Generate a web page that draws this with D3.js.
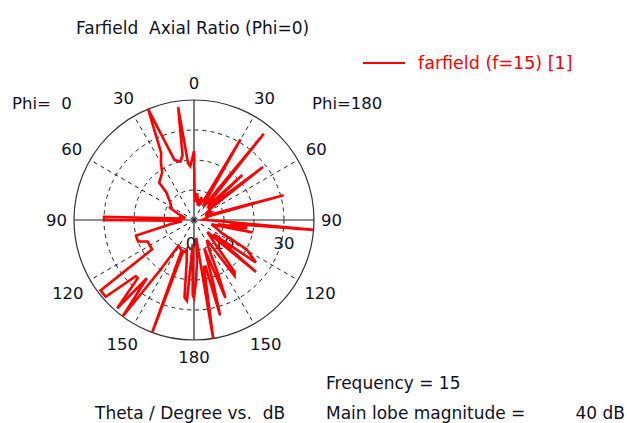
<!DOCTYPE html>
<html>
<head>
<meta charset="utf-8">
<script src="https://cdn.jsdelivr.net/npm/d3@7"></script>
<style>
  body { margin: 0; background: #fff; }
  svg text { font-family: "DejaVu Sans", sans-serif; fill: #101024; white-space: pre; }
</style>
</head>
<body>
<div id="chartDiv"></div>
<script>
// axial ratio (dB), phi=0 drawn on the left, phi=180 on the right
var thetaPhi0 = [0, 2, 4, 6, 8, 10, 13, 18, 22.5, 26, 30, 34, 38, 43, 45, 50, 53, 58, 63, 68, 72, 76, 80, 84, 88, 90, 92, 96, 100, 105, 111, 115, 120, 125, 127, 131, 134, 136, 139, 141, 143.5, 146, 149, 158, 159.6, 161, 164, 166, 170, 173, 175, 177, 179, 180];
var arPhi0 = [23, 20, 18, 19, 38, 22, 20, 21, 40, 25, 22, 19, 18, 17, 13, 11, 10, 9, 9, 6, 4, 5, 3, 5, 30, 30, 6, 4, 8, 20, 20, 17, 17, 17, 39, 39, 27, 27, 39, 25, 40, 20, 10, 11, 40, 11, 11, 10, 14, 26, 27, 8, 25, 26];

var thetaPhi180 = [0, 1.5, 4, 7, 10, 14, 18, 22, 27, 30, 32, 36, 39, 41, 45, 47, 49, 52.5, 55, 60, 65, 70, 74.5, 76, 82, 88, 93, 94.7, 96, 98.5, 100, 102, 104, 110, 115, 119, 124.5, 126, 130, 132, 138, 142, 144, 147, 152, 156, 158, 160, 163, 164.7, 166, 168, 170.8, 173, 176, 178, 180];
var arPhi180 = [23, 8, 6, 9, 7, 5, 8, 6, 8, 31, 7, 6, 37, 8, 7, 22, 6, 29, 7, 5, 6, 4, 31, 5, 4, 3, 10, 40, 12, 18, 8, 20, 6, 8, 10, 20, 25, 8, 27, 6, 10, 22, 23, 8, 10, 20, 28, 10, 22, 33, 16, 16, 40, 6, 14, 20, 26];

var angleTicks = [0, 30, 60, 90, 120, 150, 180];
var gridRings = [10, 20, 30];
var radialLabels = [0, 10, 30];

var width = 627, height = 423;
var cx = 194, cy = 220, R = 120;

var svg = d3.select("#chartDiv").append("svg")
	.attr("width", width)
	.attr("height", height);

var r = d3.scaleLinear().domain([0, 40]).range([0, R]);
var rad = function(deg) { return deg * Math.PI / 180; };

var g = svg.append("g").attr("transform", "translate(" + cx + "," + cy + ")");

// dashed rings
g.selectAll("circle.ring")
	.data(gridRings)
	.enter().append("circle")
	.attr("class", "ring")
	.attr("r", function(d) { return r(d); })
	.attr("fill", "none")
	.attr("stroke", "#222")
	.attr("stroke-width", 1)
	.attr("stroke-dasharray", "4,4");

// dashed spokes, both halves
var spokes = [];
angleTicks.forEach(function(a) {
	if (a % 90 !== 0) { spokes.push(a); spokes.push(-a); }
});
g.selectAll("line.spoke")
	.data(spokes)
	.enter().append("line")
	.attr("class", "spoke")
	.attr("x1", 0).attr("y1", 0)
	.attr("x2", function(d) { return r(40) * Math.sin(rad(d)); })
	.attr("y2", function(d) { return -r(40) * Math.cos(rad(d)); })
	.attr("stroke", "#222")
	.attr("stroke-dasharray", "4,4");

// outer circle and solid axes
g.append("circle").attr("r", r(40)).attr("fill", "none").attr("stroke", "#333").attr("stroke-width", 1.2);
g.append("line").attr("x1", 0).attr("x2", 0).attr("y1", -r(40)).attr("y2", r(40)).attr("stroke", "#222").attr("stroke-width", 1.2);
g.append("line").attr("y1", 0).attr("y2", 0).attr("x1", -r(40)).attr("x2", r(40)).attr("stroke", "#222").attr("stroke-width", 1.2);

// radial value labels
g.selectAll("text.rlab")
	.data(radialLabels)
	.enter().append("text")
	.attr("class", "rlab")
	.attr("x", function(d) { return r(d) - (d === 0 ? 3 : 0); })
	.attr("y", 29)
	.attr("text-anchor", "middle")
	.style("font-size", "16.5px")
	.text(function(d) { return d; });

// curve: phi=0 from theta 0..180 on the left, then phi=180 back from 180..0 on the right
var pts = [];
thetaPhi0.forEach(function(t, i) { pts.push([-rad(t), r(arPhi0[i])]); });
for (var i = thetaPhi180.length - 1; i >= 0; i--) {
	pts.push([rad(thetaPhi180[i]), r(arPhi180[i])]);
}
var line = d3.lineRadial()
	.angle(function(d) { return d[0]; })
	.radius(function(d) { return d[1]; });

g.append("path")
	.datum(pts)
	.attr("d", line)
	.attr("fill", "none")
	.attr("stroke", "#ff0000")
	.attr("stroke-width", 2.6)
	.attr("stroke-linejoin", "miter")
	.attr("stroke-miterlimit", 4);

// angle labels around the circle
var angLabels = [];
angleTicks.forEach(function(a) {
	angLabels.push(a);
	if (a !== 0 && a !== 180) angLabels.push(-a);
});
g.selectAll("text.alab")
	.data(angLabels)
	.enter().append("text")
	.attr("class", "alab")
	.attr("text-anchor", "middle")
	.style("font-size", "16.5px")
	.text(function(d) { return Math.abs(d); })
	.each(function(d) {
		var w = this.getComputedTextLength();
		var s = Math.sin(rad(d)), c = Math.cos(rad(d));
		var rr = 127 + (w / 2) * Math.abs(s) + 10 * Math.abs(c);
		d3.select(this)
			.attr("x", rr * s)
			.attr("y", -rr * c + 6);
	});

// title and annotations
svg.append("text").attr("x", 76).attr("y", 34).style("font-size", "17px").text("Farfield  Axial Ratio (Phi=0)");
svg.append("text").attr("x", 12).attr("y", 109).style("font-size", "16.5px").text("Phi=  0");
svg.append("text").attr("x", 312).attr("y", 109).style("font-size", "16.5px").text("Phi=180");

// legend
svg.append("line").attr("x1", 363).attr("x2", 405).attr("y1", 63).attr("y2", 63)
	.attr("stroke", "#ff0000").attr("stroke-width", 2.2);
svg.append("text").attr("x", 418).attr("y", 69).style("font-size", "17.5px").style("fill", "#ff0000")
	.text("farfield (f=15) [1]");

svg.append("text").attr("x", 326).attr("y", 389).style("font-size", "17px").text("Frequency = 15");
svg.append("text").attr("x", 95).attr("y", 419).style("font-size", "17px").text("Theta / Degree vs.  dB");
svg.append("text").attr("x", 326).attr("y", 419).style("font-size", "17px").text("Main lobe magnitude =");
svg.append("text").attr("x", 625).attr("y", 419).attr("text-anchor", "end").style("font-size", "17px").text("40 dB");
</script>
</body>
</html>
